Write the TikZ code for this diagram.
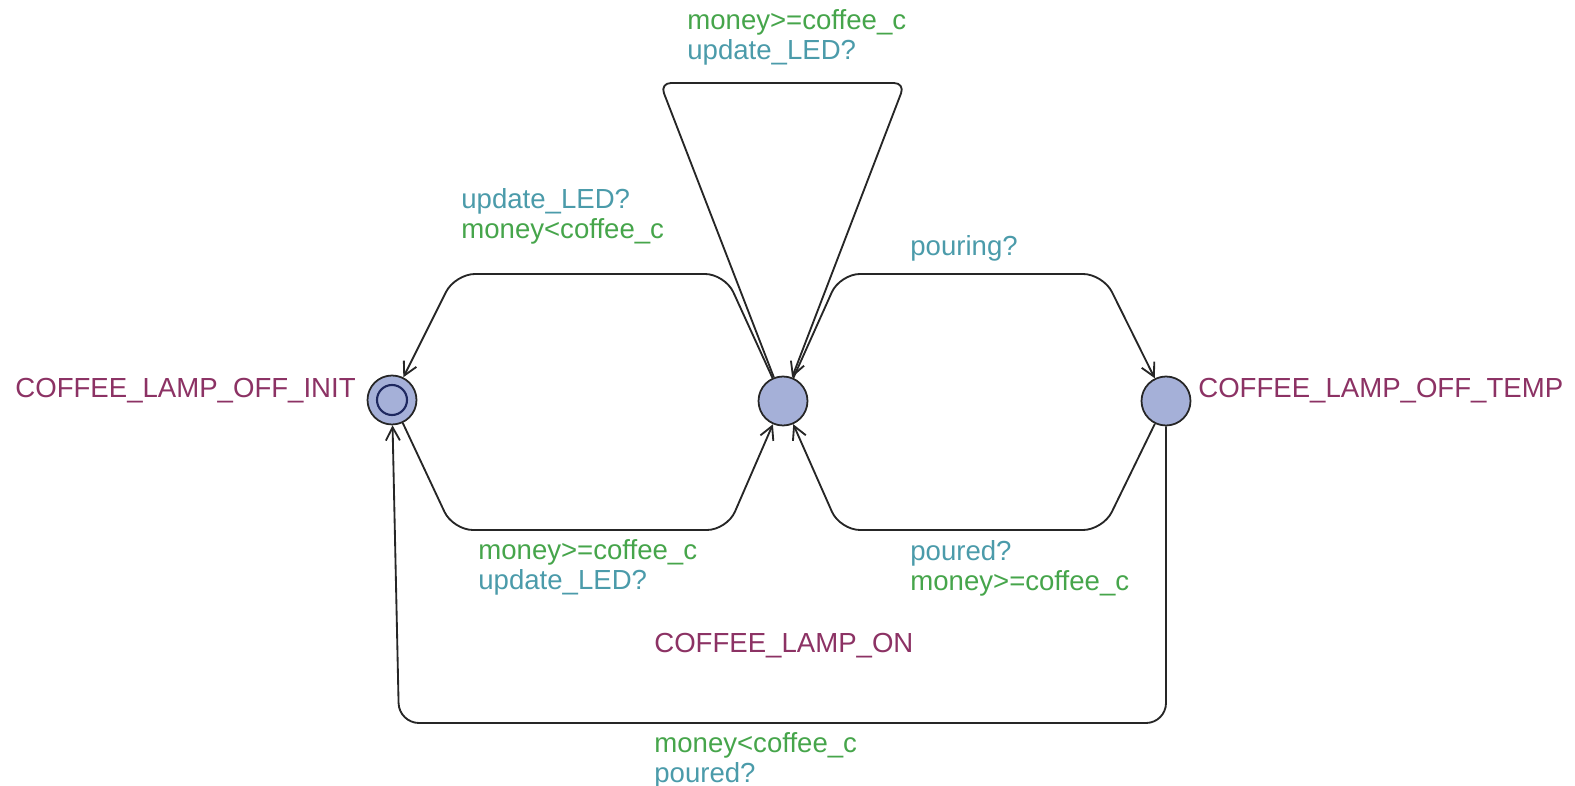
\documentclass[tikz,border=0pt]{standalone}
\usepackage{fontspec}
\setmainfont{Liberation Sans}
\usetikzlibrary{arrows.meta}
\definecolor{locname}{RGB}{140,50,100}
\definecolor{guardcol}{RGB}{70,165,75}
\definecolor{synccol}{RGB}{75,155,170}
\definecolor{locfill}{RGB}{165,176,216}
\definecolor{initring}{RGB}{30,40,95}

\begin{document}
\begin{tikzpicture}[x=0.02cm,y=-0.02cm,
    loc/.style={circle,draw=black!85,fill=locfill,line width=1pt,minimum size=0.98cm,inner sep=0pt},
    trans/.style={line width=1.05pt,draw=black!85,-{Straight Barb[length=7.5pt,width=8pt]},rounded corners=0.4cm},
    lbl/.style={anchor=west,align=left,inner sep=0pt,font=\fontsize{15.7}{17}\selectfont}]
				\useasboundingbox (0,0) rectangle (1575,786);
				% locations
				\node[loc] (init) at (392,400) {};
				\draw[initring,line width=1.2pt] (init) circle [radius=0.3cm];
				\node[loc] (mid) at (783,401) {};
				\node[loc] (temp) at (1166,401) {};
				\node[lbl,anchor=east,text=locname] (initname) at (356,391) {COFFEE\_LAMP\_OFF\_INIT};
				\node[lbl,text=locname] (tempname) at (1198,391) {COFFEE\_LAMP\_OFF\_TEMP};
				\node[lbl,text=locname] (midname) at (654,646) {COFFEE\_LAMP\_ON};
				% transitions
				\draw[trans] (mid) -- (725,274) -- (455,274) -- (init);
				\draw[trans] (init) -- (453,530) -- (727,530) -- (mid);
				\draw[trans,rounded corners=0.22cm] (mid) -- (660,83) -- (905,83) -- (mid);
				\draw[trans] (mid) -- (840,274) -- (1103,274) -- (temp);
				\draw[trans] (temp) -- (1103,530) -- (840,530) -- (mid);
				\draw[trans] (temp) -- (1166,723) -- (399,723) -- (init);
				% guards and syncs
				\node[lbl] (loopl) at (687,37) {\color{guardcol}money>=coffee\_c\\\color{synccol}update\_LED?};
				\node[lbl] (backl) at (461,216) {\color{synccol}update\_LED?\\\color{guardcol}money<coffee\_c};
				\node[lbl,text=synccol] (pourl) at (910,248) {pouring?};
				\node[lbl] (onl) at (478,567) {\color{guardcol}money>=coffee\_c\\\color{synccol}update\_LED?};
				\node[lbl] (pouredl) at (910,568) {\color{synccol}poured?\\\color{guardcol}money>=coffee\_c};
				\node[lbl] (offl) at (654,760) {\color{guardcol}money<coffee\_c\\\color{synccol}poured?};
\end{tikzpicture}
\end{document}
